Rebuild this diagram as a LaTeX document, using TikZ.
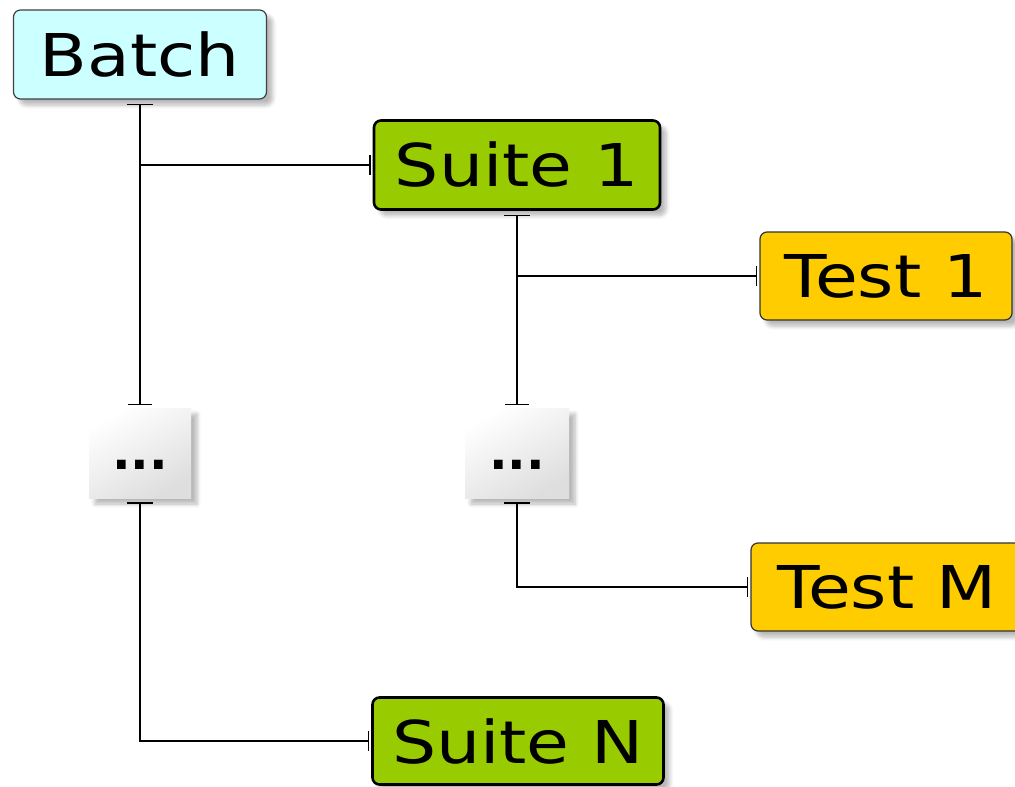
\documentclass[tikz,border=0pt]{standalone}
\usepackage{fontspec}
\setmainfont{DejaVu Sans}
\usetikzlibrary{arrows.meta,shadows.blur}
\definecolor{batchc}{HTML}{CCFFFF}
\definecolor{suitec}{HTML}{99CC00}
\definecolor{testc}{HTML}{FFCC00}
\newcommand{\lbl}[1]{\scalebox{1.18}[1]{\fontsize{59}{60}\selectfont #1}}
\newcommand{\dotstxt}{\raisebox{-16pt}[0pt][0pt]{\fontsize{49}{50}\selectfont\bfseries ...}}
\begin{document}
\begin{tikzpicture}[x=1pt,y=-1pt,
  shad/.style={blur shadow={shadow xshift=6pt,shadow yshift=-6pt,shadow blur steps=6,shadow blur radius=4pt,shadow opacity=28}},
  boxbase/.style={rectangle,rounded corners=7pt,shad,inner sep=0pt,text=black},
  batchbox/.style={boxbase,draw=black!75,line width=1.2pt,fill=batchc},
  suitebox/.style={boxbase,draw=black,line width=2.6pt,fill=suitec},
  testbox/.style={boxbase,draw=black!80,line width=1.2pt,fill=testc},
  dotbox/.style={rectangle,inner sep=0pt,shad,left color=white,right color=black!13,shading angle=30},
  conn/.style={draw=black,line width=1.3pt},
  tt/.style={conn,{Bar[width=26pt,line width=1.3pt]}-{Bar[width=24pt,line width=1.3pt]},shorten <=4pt,shorten >=3pt},
  tb/.style={conn,-{Bar[width=20pt,line width=1.3pt]},shorten >=2pt}
]
\useasboundingbox (0,0) rectangle (1015,787);
\clip (0,0) rectangle (1015,787);

\node[batchbox,minimum width=253pt,minimum height=89pt] (batch) at (140,54.5) {\lbl{Batch}};
\node[suitebox,minimum width=286pt,minimum height=89pt] (suite1) at (517,165) {\lbl{Suite 1}};
\node[testbox,minimum width=252pt,minimum height=88pt] (test1) at (886,276) {\lbl{Test 1}};
\node[dotbox,minimum width=102pt,minimum height=90pt] (dots1) at (140,453) {\dotstxt};
\node[dotbox,minimum width=104pt,minimum height=90pt] (dots2) at (517,453) {\dotstxt};
\node[testbox,minimum width=272pt,minimum height=88pt] (testM) at (887,587) {\lbl{Test M}};
\node[suitebox,minimum width=291pt,minimum height=87pt] (suiteN) at (518,741) {\lbl{Suite N}};

\draw[tt] (batch.south) -- (dots1.north);
\draw[tb] (batch.south |- suite1.west) -- (suite1.west);
\draw[tt] (suite1.south) -- (dots2.north);
\draw[tb] (suite1.south |- test1.west) -- (test1.west);
\draw[conn,{Bar[width=26pt,line width=1.3pt]}-{Bar[width=20pt,line width=1.3pt]},shorten <=4pt,shorten >=2pt] (dots1.south) |- (suiteN.west);
\draw[conn,{Bar[width=26pt,line width=1.3pt]}-{Bar[width=20pt,line width=1.3pt]},shorten <=4pt,shorten >=2pt] (dots2.south) |- (testM.west);
\end{tikzpicture}
\end{document}
